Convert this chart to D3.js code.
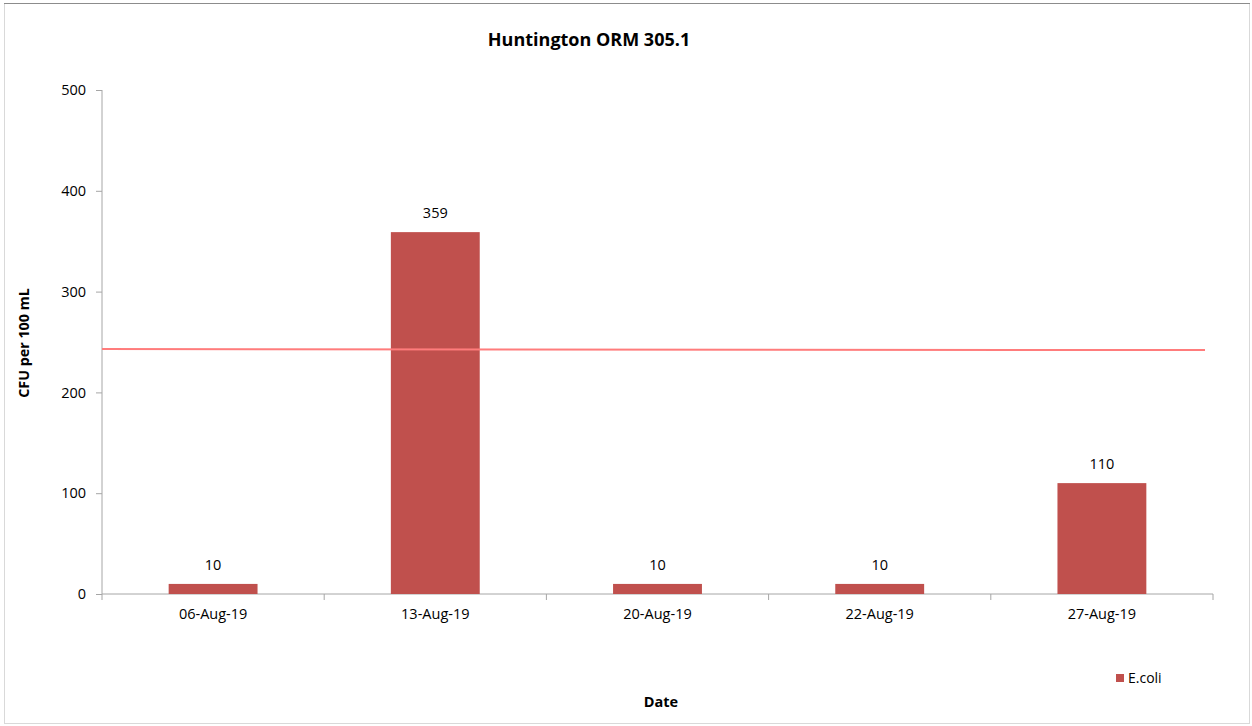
<!DOCTYPE html>
<html><head><meta charset="utf-8">
<script src="https://cdn.jsdelivr.net/npm/d3@7"></script>
<style>
body{margin:0;background:#fff;}
svg{display:block;font-family:"Open Sans",sans-serif;}
</style></head>
<body><svg id="c" width="1252" height="726"></svg>
<script>
const categories = ["06-Aug-19","13-Aug-19","20-Aug-19","22-Aug-19","27-Aug-19"];
const ecoli = [10,359,10,10,110];
const threshold = [243,242];
const yTicks = [0,100,200,300,400,500];

const FONT = "'Open Sans',sans-serif";
const FS = 14.5;
const svg = d3.select("#c");
const m = {l:102, r:1213, t:90, b:594};

svg.append("rect").attr("x",4.5).attr("y",3.5).attr("width",1245).attr("height",720)
  .attr("fill","#fff").attr("stroke","#d9d9d9");
svg.append("line").attr("x1",4).attr("x2",1250).attr("y1",3.5).attr("y2",3.5).attr("stroke","#8c8c8c");

const x = d3.scaleBand().domain(categories).range([m.l,m.r]).paddingInner(0).paddingOuter(0);
const y = d3.scaleLinear().domain([0,500]).range([m.b,m.t]);

// y axis
const ya = svg.append("g").attr("transform",`translate(${m.l},0)`)
  .call(d3.axisLeft(y).tickValues(yTicks).tickSize(6).tickPadding(10));
ya.select(".domain").attr("stroke","#a6a6a6").attr("d",`M0,${m.t}V${m.b}`);
ya.selectAll(".tick line").attr("stroke","#a6a6a6");
ya.selectAll("text").attr("font-size",FS).attr("fill","#000").attr("font-family",FONT);

// x axis
const xa = svg.append("g").attr("transform",`translate(0,${m.b})`)
  .call(d3.axisBottom(x).tickSize(0).tickPadding(15));
xa.select(".domain").attr("stroke","#a6a6a6").attr("d",`M${m.l},0H${m.r}`);
xa.selectAll("text").attr("font-size",FS).attr("fill","#000").attr("font-family",FONT);
const bounds = categories.map(c=>x(c)).concat([x(categories[categories.length-1])+x.bandwidth()]);
svg.append("g").selectAll("line").data(bounds).join("line")
  .attr("x1",d=>d).attr("x2",d=>d).attr("y1",m.b).attr("y2",m.b+6).attr("stroke","#a6a6a6");

// bars
const bw = x.bandwidth()*0.4;
svg.append("g").selectAll("rect").data(ecoli).join("rect")
  .attr("x",(d,i)=>x(categories[i])+x.bandwidth()/2-bw/2)
  .attr("width",bw)
  .attr("y",d=>y(d)).attr("height",d=>y(0)-y(d))
  .attr("fill","#C0504D");
svg.append("g").selectAll("text").data(ecoli).join("text")
  .attr("x",(d,i)=>x(categories[i])+x.bandwidth()/2)
  .attr("y",d=>y(d)-14)
  .attr("text-anchor","middle").attr("font-size",FS).text(d=>d);

// threshold line
const tx = d3.scaleLinear().domain([0,threshold.length-1]).range([m.l,1205]);
svg.append("path").datum(threshold)
  .attr("d",d3.line().x((d,i)=>tx(i)).y(d=>y(d)))
  .attr("fill","none").attr("stroke","#FF7C7C").attr("stroke-width",2);

// title
svg.append("text").attr("x",589).attr("y",46).attr("text-anchor","middle")
  .attr("font-size",18).attr("font-weight","bold").text("Huntington ORM 305.1");
// axis titles
svg.append("text").attr("transform","translate(29,343) rotate(-90)").attr("text-anchor","middle")
  .attr("font-size",14.3).attr("font-weight","bold").text("CFU per 100 mL");
svg.append("text").attr("x",661).attr("y",707).attr("text-anchor","middle")
  .attr("font-size",FS).attr("font-weight","bold").text("Date");
// legend
svg.append("rect").attr("x",1116).attr("y",674).attr("width",8).attr("height",8).attr("fill","#C0504D");
svg.append("text").attr("x",1128).attr("y",683).attr("font-size",14).text("E.coli");
</script></body></html>
